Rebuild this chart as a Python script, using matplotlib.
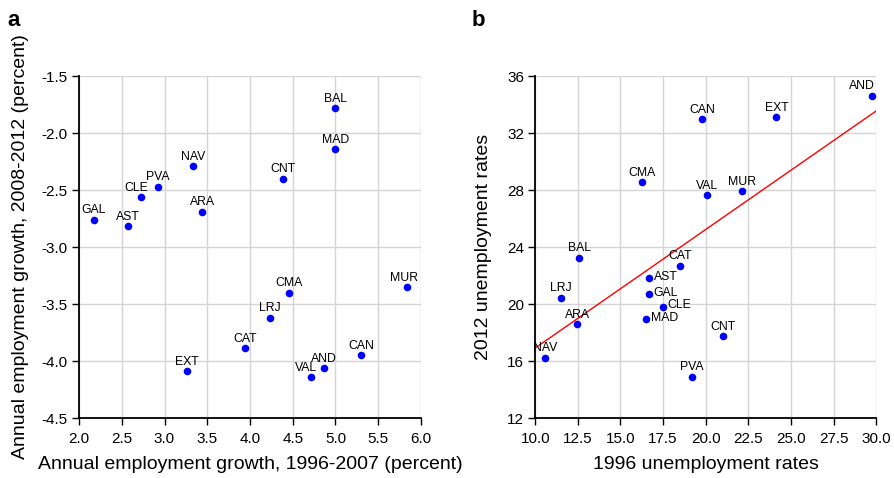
import numpy as np
import matplotlib
matplotlib.use('Agg')
import matplotlib.pyplot as plt

plt.rcParams['font.family'] = ['Liberation Sans', 'DejaVu Sans']

# Панель a: рост занятости
regions_a = ['BAL', 'MAD', 'NAV', 'CNT', 'PVA', 'CLE', 'ARA', 'GAL', 'AST',
             'CMA', 'MUR', 'LRJ', 'CAT', 'CAN', 'AND', 'VAL', 'EXT']
growth_9607 = [5.00, 5.00, 3.33, 4.39, 2.92, 2.73, 3.44, 2.17, 2.57,
               4.46, 5.84, 4.23, 3.94, 5.30, 4.87, 4.71, 3.26]
growth_0812 = [-1.78, -2.14, -2.29, -2.40, -2.47, -2.56, -2.69, -2.76, -2.82,
               -3.40, -3.35, -3.62, -3.89, -3.95, -4.06, -4.14, -4.09]

# Панель b: безработица
regions_b = ['AND', 'CAN', 'EXT', 'CMA', 'VAL', 'MUR', 'BAL', 'CAT', 'AST',
             'GAL', 'LRJ', 'CLE', 'MAD', 'ARA', 'CNT', 'NAV', 'PVA']
unemp_1996 = [29.75, 19.79, 24.15, 16.24, 20.09, 22.14, 12.58, 18.48, 16.67,
              16.67, 11.50, 17.47, 16.51, 12.46, 21.00, 10.57, 19.17]
unemp_2012 = [34.62, 33.00, 33.14, 28.55, 27.66, 27.90, 23.26, 22.70, 21.81,
              20.68, 20.45, 19.82, 18.95, 18.60, 17.73, 16.23, 14.90]

# сдвиги подписей (в пунктах)
shift_a = {'VAL': (-3, 0), 'CLE': (-4, 0), 'MUR': (-2, 0)}
shift_b = {'AND': (-7, 0)}
right_b = ['AST', 'GAL', 'CLE', 'MAD']

fig = plt.figure(figsize=(8.95, 4.78), dpi=100)
ax1 = fig.add_axes([0.0883, 0.1255, 0.382, 0.7155])
ax2 = fig.add_axes([0.598, 0.1255, 0.381, 0.7155])


def style(ax):
    ax.spines['top'].set_visible(False)
    ax.spines['right'].set_visible(False)
    ax.spines['left'].set_linewidth(1.3)
    ax.spines['bottom'].set_linewidth(1.3)
    ax.grid(True, color='#d4d4d4', linewidth=1)
    ax.set_axisbelow(True)
    ax.tick_params(direction='out', length=5, width=1, labelsize=11)
    ax.tick_params(axis='x', pad=5)
    ax.tick_params(axis='y', pad=3)


# --- a ---
ax1.scatter(growth_9607, growth_0812, s=30, color='#0000ff', zorder=3, linewidths=0)
for name, x, y in zip(regions_a, growth_9607, growth_0812):
    dx, dy = shift_a.get(name, (0, 0))
    ax1.annotate(name, (x, y), xytext=(dx, 4.5 + dy), textcoords='offset points',
                 ha='center', va='baseline', fontsize=8.8)
ax1.set_xlim(2.0, 6.0)
ax1.set_ylim(-4.5, -1.5)
ax1.set_xticks(np.arange(2.0, 6.01, 0.5))
ax1.set_yticks(np.arange(-4.5, -1.49, 0.5))
ax1.xaxis.set_major_formatter(matplotlib.ticker.FormatStrFormatter('%.1f'))
ax1.yaxis.set_major_formatter(matplotlib.ticker.FormatStrFormatter('%.1f'))
style(ax1)
ax1.set_xlabel('Annual employment growth, 1996-2007 (percent)', fontsize=14, labelpad=7)
ax1.set_ylabel('Annual employment growth, 2008-2012 (percent)', fontsize=14, labelpad=9)
fig.text(0.008, 0.945, 'a', fontsize=16, fontweight='bold')

# --- b ---
ax2.scatter(unemp_1996, unemp_2012, s=30, color='#0000ff', zorder=3, linewidths=0)
k, b = np.polyfit(unemp_1996, unemp_2012, 1)
xs = np.array([10.0, 30.0])
ax2.plot(xs, k * xs + b, color='red', linewidth=1, zorder=2)
for name, x, y in zip(regions_b, unemp_1996, unemp_2012):
    if name in right_b:
        ax2.annotate(name, (x, y), xytext=(3.5, 1), textcoords='offset points',
                     ha='left', va='center', fontsize=8.8)
    else:
        dx, dy = shift_b.get(name, (0, 0))
        ax2.annotate(name, (x, y), xytext=(dx, 4.5 + dy), textcoords='offset points',
                     ha='center', va='baseline', fontsize=8.8)
ax2.set_xlim(10, 30)
ax2.set_ylim(12, 36)
ax2.set_xticks(np.arange(10, 30.01, 2.5))
ax2.set_yticks(np.arange(12, 36.01, 4))
ax2.xaxis.set_major_formatter(matplotlib.ticker.FormatStrFormatter('%.1f'))
ax2.yaxis.set_major_formatter(matplotlib.ticker.FormatStrFormatter('%d'))
style(ax2)
ax2.set_xlabel('1996 unemployment rates', fontsize=14, labelpad=7)
ax2.set_ylabel('2012 unemployment rates', fontsize=14, labelpad=11)
fig.text(0.527, 0.945, 'b', fontsize=16, fontweight='bold')

fig.savefig('out.png', dpi=100)
